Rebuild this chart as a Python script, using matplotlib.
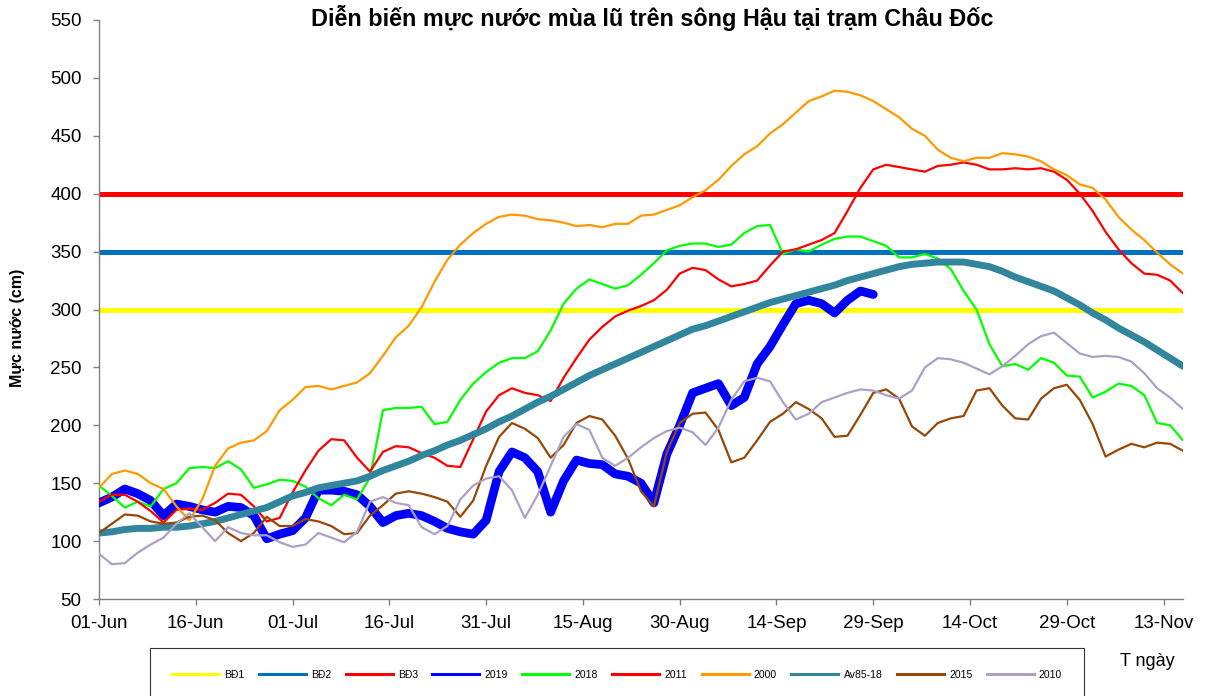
import numpy as np
import matplotlib

matplotlib.use("Agg")
import matplotlib.pyplot as plt
from matplotlib.lines import Line2D

plt.rcParams["font.family"] = ["Liberation Sans", "DejaVu Sans"]

# days since 01-Jun, one reading every 2 days
days = np.arange(0, 169, 2)

tick_labels = ["01-Jun", "16-Jun", "01-Jul", "16-Jul", "31-Jul", "15-Aug",
               "30-Aug", "14-Sep", "29-Sep", "14-Oct", "29-Oct", "13-Nov"]

bd1, bd2, bd3 = 300, 350, 400

lv_2019 = [133, 138, 145, 141, 135, 122, 132, 130, 127, 125,
           130, 129, 122, 102, 106, 109, 120, 144, 144, 143,
           140, 130, 116, 122, 124, 122, 117, 111, 108, 106,
           118, 160, 177, 172, 160, 125, 152, 170, 167, 166,
           158, 156, 150, 133, 175, 200, 228, 232, 236, 217,
           224, 253, 268, 287, 305, 308, 305, 297, 308, 316,
           313]

lv_2018 = [148, 139, 129, 134, 130, 145, 150, 163, 164, 163,
           169, 162, 146, 149, 153, 152, 147, 137, 131, 140,
           136, 155, 213, 215, 215, 216, 201, 203, 222, 236,
           246, 254, 258, 258, 264, 282, 305, 318, 326, 322,
           318, 321, 330, 340, 351, 355, 357, 357, 354, 356,
           366, 372, 373, 348, 352, 350, 356, 361, 363, 363,
           359, 355, 345, 345, 348, 344, 335, 316, 300, 270,
           251, 253, 248, 258, 254, 243, 242, 224, 229, 236,
           234, 226, 202, 200, 187]

lv_2011 = [134, 140, 140, 134, 126, 116, 127, 128, 127, 133,
           141, 140, 130, 117, 120, 142, 161, 178, 188, 187,
           172, 160, 177, 182, 181, 176, 172, 165, 164, 188,
           212, 226, 232, 228, 226, 221, 241, 258, 274, 285,
           294, 299, 303, 308, 317, 331, 336, 334, 326, 320,
           322, 325, 338, 350, 352, 356, 360, 366, 385, 405,
           421, 425, 423, 421, 419, 424, 425, 427, 425, 421,
           421, 422, 421, 422, 419, 412, 400, 385, 367, 352,
           340, 331, 330, 325, 314]

lv_2000 = [146, 158, 161, 158, 150, 145, 130, 118, 136, 165,
           180, 185, 187, 195, 213, 222, 233, 234, 231, 234,
           237, 245, 260, 276, 286, 302, 324, 343, 356, 366,
           374, 380, 382, 381, 378, 377, 375, 372, 373, 371,
           374, 374, 381, 382, 386, 390, 397, 403, 412, 424,
           434, 441, 452, 460, 470, 480, 484, 489, 488, 485,
           480, 473, 466, 456, 450, 438, 431, 428, 431, 431,
           435, 434, 432, 428, 421, 416, 408, 405, 395, 380,
           369, 360, 349, 339, 331]

lv_avg = [107, 108, 110, 111, 111, 112, 112, 113, 115, 117,
          120, 123, 126, 129, 134, 139, 142, 146, 148, 150,
          152, 156, 161, 165, 169, 174, 178, 183, 187, 192,
          197, 203, 208, 214, 220, 225, 231, 237, 243, 248,
          253, 258, 263, 268, 273, 278, 283, 286, 290, 294,
          298, 302, 306, 309, 312, 315, 318, 321, 325, 328,
          331, 334, 337, 339, 340, 341, 341, 341, 339, 337,
          333, 328, 324, 320, 316, 310, 304, 297, 291, 284,
          278, 272, 265, 258, 251]

lv_2015 = [107, 115, 123, 122, 117, 115, 116, 121, 122, 118,
           107, 100, 107, 121, 113, 113, 119, 117, 113, 106,
           107, 122, 131, 141, 143, 141, 138, 134, 121, 135,
           165, 190, 202, 197, 189, 172, 183, 202, 208, 205,
           191, 171, 143, 130, 177, 202, 210, 211, 196, 168,
           172, 187, 203, 210, 220, 214, 206, 190, 191, 209,
           228, 231, 223, 199, 191, 202, 206, 208, 230, 232,
           217, 206, 205, 223, 232, 235, 222, 201, 173, 179,
           184, 181, 185, 184, 178]

lv_2010 = [89, 80, 81, 90, 97, 103, 115, 124, 112, 100,
           112, 107, 105, 105, 99, 95, 97, 107, 103, 99,
           108, 134, 138, 133, 131, 112, 106, 113, 136, 148,
           154, 156, 144, 120, 140, 165, 190, 201, 196, 172,
           165, 172, 181, 189, 195, 198, 194, 183, 198, 222,
           238, 241, 238, 220, 205, 210, 220, 224, 228, 231,
           230, 226, 223, 230, 250, 258, 257, 254, 249, 244,
           251, 260, 270, 277, 280, 271, 262, 259, 260, 259,
           255, 245, 232, 224, 214]

# name, values, colour, linewidth (drawn in legend order)
series = [
    ("2019", lv_2019, "#0000FF", 6.3),
    ("2018", lv_2018, "#00FF00", 1.6),
    ("2011", lv_2011, "#FF0000", 1.6),
    ("2000", lv_2000, "#FF9900", 1.6),
    ("Av85-18", lv_avg, "#31859C", 5.0),
    ("2015", lv_2015, "#974806", 1.6),
    ("2010", lv_2010, "#ADA0C4", 1.6),
]
levels = [("BĐ1", bd1, "#FFFF00"), ("BĐ2", bd2, "#0070C0"), ("BĐ3", bd3, "#FF0000")]

fig = plt.figure(figsize=(12.12, 6.96), dpi=100)
ax = fig.add_axes([99 / 1212, 1 - 599 / 696, 1084 / 1212, 579 / 696])

for name, y, c in levels:
    ax.axhline(y, color=c, lw=3.6, zorder=2)
for i, (name, vals, c, lw) in enumerate(series):
    ax.plot(days[:len(vals)], vals, color=c, lw=lw, zorder=3 + i,
            solid_capstyle="round", solid_joinstyle="round")

ax.set_xlim(0, 168)
ax.set_ylim(50, 550)
ax.set_yticks(range(50, 551, 50))
ax.set_xticks([15 * i for i in range(len(tick_labels))])
ax.set_xticklabels(tick_labels)
for s in ("top", "right"):
    ax.spines[s].set_visible(False)
for s in ("left", "bottom"):
    ax.spines[s].set_color("#808080")
    ax.spines[s].set_linewidth(1.0)
ax.tick_params(colors="#808080", labelcolor="black", labelsize=13.5,
               length=4.5, width=1.0)
ax.tick_params(axis="y", pad=8)
ax.tick_params(axis="x", pad=7)

fig.text(652 / 1212, 1 - 18 / 696, "Diễn biến mực nước mùa lũ trên sông Hậu tại trạm Châu Đốc",
         ha="center", va="center", fontsize=16.8, fontweight="bold")
fig.text(18 / 1212, 1 - 328 / 696, "Mực nước (cm)", rotation=90,
         ha="center", va="center", fontsize=11.5, fontweight="bold")
fig.text(1120 / 1212, 1 - 662 / 696, "T ngày", ha="left", va="center", fontsize=13)

handles = [Line2D([], [], color=c, lw=2.2) for _, _, c in levels]
handles += [Line2D([], [], color=c, lw=2.2) for _, _, c, _ in series]
labels = [n for n, _, _ in levels] + [n for n, _, _, _ in series]
leg = fig.legend(handles, labels, loc="upper left", ncol=10, mode="expand",
                 bbox_to_anchor=(150 / 1212, 0, 934 / 1212, 1 - 648 / 696),
                 bbox_transform=fig.transFigure, fontsize=7.5, frameon=True,
                 fancybox=False, borderpad=2.1, handlelength=4.5,
                 handletextpad=0.5, borderaxespad=0)
leg.get_frame().set_edgecolor("black")
leg.get_frame().set_linewidth(0.8)

fig.savefig("out.png", dpi=100)
